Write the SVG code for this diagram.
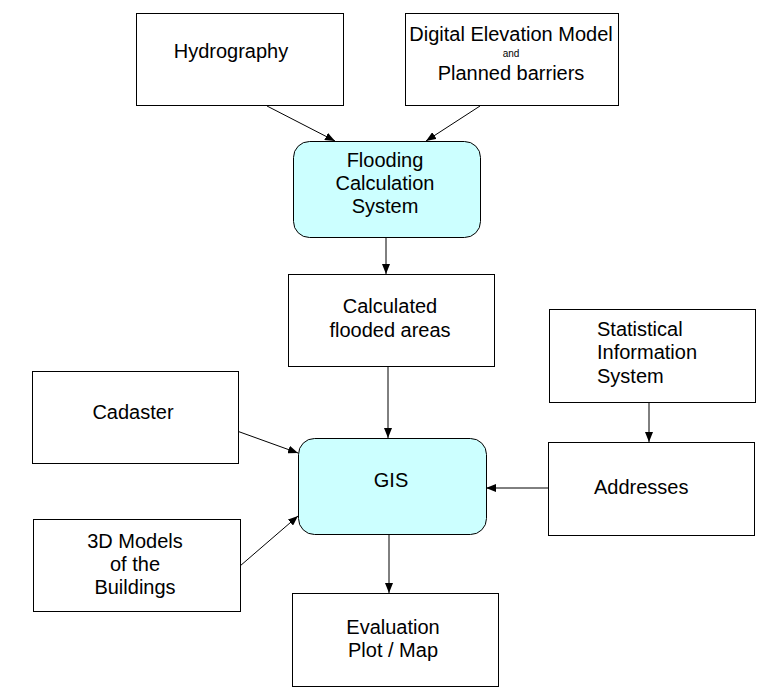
<svg xmlns="http://www.w3.org/2000/svg" width="777" height="700" viewBox="0 0 777 700">
<style>
.box{fill:#fff;stroke:#000;stroke-width:1}
.rbox{fill:#ccffff;stroke:#000;stroke-width:1}
text{font-family:"Liberation Sans",Arial,sans-serif;font-size:20px;fill:#000}
.c{text-anchor:middle}
.sm{font-size:10px}
.edge{stroke:#000;stroke-width:1;fill:none;marker-end:url(#ah)}
</style>
<defs>
<marker id="ah" markerWidth="10" markerHeight="8" refX="10" refY="4" orient="auto" markerUnits="userSpaceOnUse">
<path d="M0,0 L10,4 L0,8 Z" fill="#000"/>
</marker>
</defs>
<rect width="777" height="700" fill="#fff"/>
<g id="connectors">
<line class="edge" x1="267" y1="106" x2="335" y2="141"/>
<line class="edge" x1="480" y1="106" x2="426" y2="141"/>
<line class="edge" x1="386" y1="237" x2="386" y2="274"/>
<line class="edge" x1="388" y1="367" x2="388" y2="438"/>
<line class="edge" x1="649" y1="402" x2="649" y2="442"/>
<line class="edge" x1="548" y1="488" x2="486" y2="488"/>
<line class="edge" x1="237" y1="431" x2="298" y2="453"/>
<line class="edge" x1="240" y1="566" x2="298" y2="516"/>
<line class="edge" x1="389" y1="534" x2="389" y2="593"/>
</g>
<g id="hydrography">
<rect class="box" x="136.5" y="13.5" width="207" height="92"/>
<text class="c" x="231" y="58">Hydrography</text>
</g>
<g id="dem">
<rect class="box" x="405.5" y="13.5" width="213" height="92"/>
<text class="c" x="511" y="41">Digital Elevation Model</text>
<text class="c sm" x="511" y="57">and</text>
<text class="c" x="511" y="80">Planned barriers</text>
</g>
<g id="flooding">
<rect class="rbox" x="293.5" y="141.5" width="187" height="96" rx="16" ry="16"/>
<text class="c" x="385" y="167">Flooding</text>
<text class="c" x="385" y="190">Calculation</text>
<text class="c" x="385" y="213">System</text>
</g>
<g id="calculated">
<rect class="box" x="288.5" y="274.5" width="206" height="92"/>
<text class="c" x="390" y="313">Calculated</text>
<text class="c" x="390" y="337">flooded areas</text>
</g>
<g id="statistical">
<rect class="box" x="549.5" y="309.5" width="206" height="93"/>
<text x="597" y="336">Statistical</text>
<text x="597" y="359">Information</text>
<text x="597" y="383">System</text>
</g>
<g id="cadaster">
<rect class="box" x="32.5" y="371.5" width="206" height="92"/>
<text class="c" x="133" y="419">Cadaster</text>
</g>
<g id="gis">
<rect class="rbox" x="298.5" y="438.5" width="188" height="96" rx="16" ry="16"/>
<text class="c" x="391" y="487">GIS</text>
</g>
<g id="addresses">
<rect class="box" x="548.5" y="442.5" width="206" height="93"/>
<text x="594" y="494">Addresses</text>
</g>
<g id="models3d">
<rect class="box" x="33.5" y="519.5" width="207" height="92"/>
<text class="c" x="135" y="548">3D Models</text>
<text class="c" x="135" y="571">of the</text>
<text class="c" x="135" y="594">Buildings</text>
</g>
<g id="evaluation">
<rect class="box" x="292.5" y="593.5" width="206" height="93"/>
<text class="c" x="393" y="634">Evaluation</text>
<text class="c" x="393" y="657">Plot / Map</text>
</g>
</svg>
